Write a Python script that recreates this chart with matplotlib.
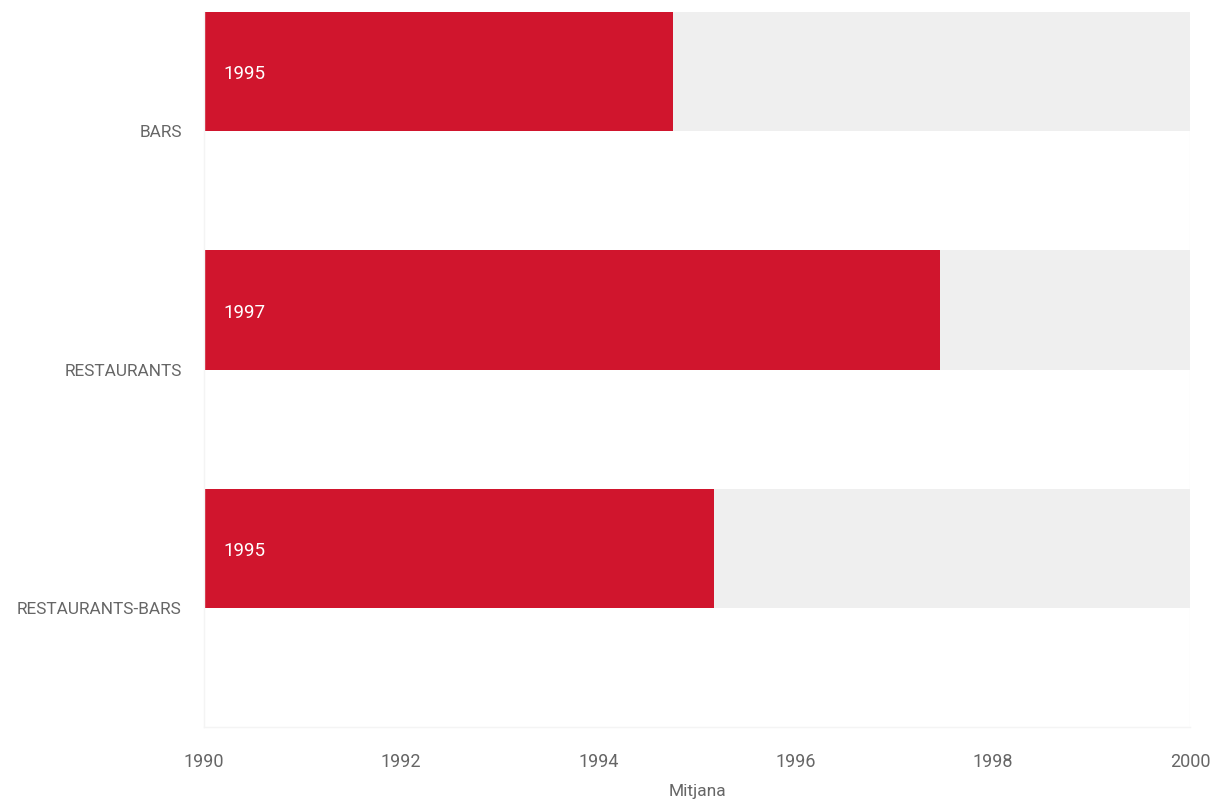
import matplotlib.pyplot as plt

# Data
categories = ["BARS", "RESTAURANTS", "RESTAURANTS-BARS"]
values = [1994.76, 1997.46, 1995.17]
labels = ["1995", "1997", "1995"]
x_min = 1990
x_max = 2000
x_ticks = [1990, 1992, 1994, 1996, 1998, 2000]

plt.rcParams['font.family'] = ['Roboto', 'DejaVu Sans']

fig = plt.figure(figsize=(12.16, 8.02), dpi=100)
ax = fig.add_axes([204 / 1216, 75 / 802, 986 / 1216, 715 / 802])

red = "#d0152d"
grey_bg = "#efefef"
text_grey = "#666666"

y = list(range(len(categories)))
# bar sits in the top half of each band
bar_y = [i - 0.25 for i in y]
ax.barh(bar_y, [x_max - x_min] * len(y), left=x_min, height=0.5, color=grey_bg, zorder=1)
ax.barh(bar_y, [v - x_min for v in values], left=x_min, height=0.5, color=red, zorder=2)

for by, lab in zip(bar_y, labels):
    ax.annotate(lab, xy=(x_min, by), xytext=(14, -2), textcoords="offset points",
                ha="left", va="center", color="white", fontsize=13.5, zorder=3)

ax.set_xlim(x_min, x_max)
ax.set_ylim(len(y) - 0.5, -0.5)
ax.set_xticks(x_ticks)
ax.set_xticklabels([str(t) for t in x_ticks])
ax.set_yticks(y)
ax.set_yticklabels(categories)

ax.tick_params(axis="x", length=0, pad=19, labelsize=13, labelcolor=text_grey)
ax.tick_params(axis="y", length=0, pad=16, labelsize=12.4, labelcolor=text_grey)

ax.set_xlabel("Mitjana", fontsize=12.5, color=text_grey, labelpad=9)

for side in ["top", "right"]:
    ax.spines[side].set_visible(False)
for side in ["left", "bottom"]:
    ax.spines[side].set_color("#f4f4f4")
    ax.spines[side].set_linewidth(1)
ax.axvline(x_max, color="#f7f7f7", lw=1, zorder=0)

fig.savefig("out.png", dpi=100)
